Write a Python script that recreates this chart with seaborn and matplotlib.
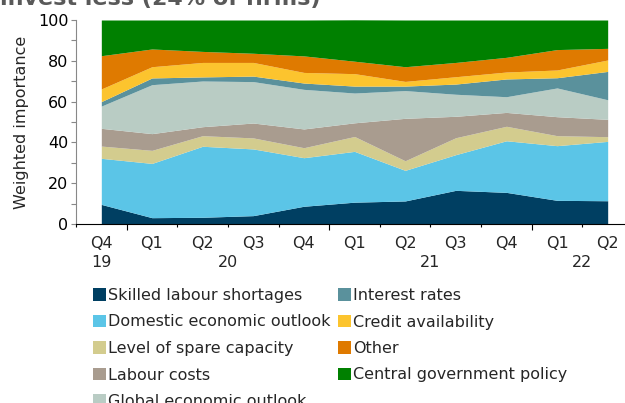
import matplotlib
matplotlib.use("Agg")
import matplotlib.pyplot as plt
import seaborn as sns
import numpy as np
import pandas as pd

# データ
periods = ["Q4 19", "Q1 20", "Q2 20", "Q3 20", "Q4 20", "Q1 21",
           "Q2 21", "Q3 21", "Q4 21", "Q1 22", "Q2 22"]

skilled_labour = [9.6, 3.1, 3.3, 4.1, 8.7, 10.7, 11.3, 16.5, 15.5, 11.6, 11.4]
domestic_outlook = [22.6, 26.6, 34.8, 32.7, 23.8, 24.9, 15.0, 17.5, 25.3, 26.8, 29.1]
spare_capacity = [6.0, 6.4, 5.2, 5.4, 4.9, 7.3, 4.7, 8.3, 7.1, 4.9, 2.3]
labour_costs = [8.7, 8.2, 4.4, 7.3, 9.2, 6.7, 20.8, 10.5, 6.8, 9.3, 8.5]
global_outlook = [10.9, 24.0, 22.4, 20.3, 19.4, 14.6, 13.6, 10.8, 7.7, 14.1, 9.6]
interest_rates = [2.2, 3.3, 2.0, 2.7, 3.1, 3.4, 2.2, 5.0, 8.7, 5.0, 13.9]
credit_availability = [6.2, 5.5, 7.1, 6.7, 5.2, 6.1, 2.3, 3.6, 3.4, 3.8, 5.6]
other = [16.3, 8.7, 5.4, 4.5, 8.1, 6.1, 7.2, 7.0, 7.2, 10.0, 5.7]
central_gov = [17.5, 14.2, 15.4, 16.3, 17.6, 20.3, 22.9, 20.8, 18.3, 14.5, 13.9]

series_names = ["Skilled labour shortages", "Domestic economic outlook",
                "Level of spare capacity", "Labour costs", "Global economic outlook",
                "Interest rates", "Credit availability", "Other",
                "Central government policy"]
colors = ["#003f62", "#5bc5e7", "#d3cc8e", "#a99c8f", "#b9ccc4",
          "#5a919c", "#fcc42e", "#df7a00", "#008000"]

df = pd.DataFrame(
    [skilled_labour, domestic_outlook, spare_capacity, labour_costs, global_outlook,
     interest_rates, credit_availability, other, central_gov],
    index=series_names, columns=periods).T

quarters = [p.split()[0] for p in periods]
years = [p.split()[1] for p in periods]

sns.set_style("ticks")
plt.rcParams["font.family"] = ["DejaVu Sans"]
plt.rcParams["font.size"] = 11.5

fig = plt.figure(figsize=(6.25, 4.03), dpi=100)
ax = fig.add_axes([76 / 625, 1 - 224 / 403, 557 / 625, 204 / 403])

x = np.arange(len(periods))
ax.stackplot(x, df.T.values, colors=colors, labels=series_names, lw=0)

ax.set_xlim(-0.5, len(periods) - 0.5)
ax.set_ylim(0, 100)
sns.despine(ax=ax)

# y軸
ax.set_yticks(range(0, 101, 20))
ax.set_yticks(range(10, 100, 20), minor=True)
ax.tick_params(axis="y", which="both", length=3.5, width=0.8, color="#888888", pad=2,
               labelsize=11.5, labelcolor="black")
ax.spines["left"].set_color("#888888")
ax.set_ylabel("Weighted importance", fontsize=11.5)
ax.yaxis.set_label_coords(-0.084, 0.5)

# x軸
ax.set_xticks(x, quarters)
ax.tick_params(axis="x", which="major", length=0, pad=9, labelsize=11.5)
year_start = [i for i in range(1, len(years)) if years[i] != years[i - 1]]
bounds = np.arange(-0.5, len(periods), 1.0)
short_bounds = [b for b in bounds if (b + 0.5) not in year_start]
ax.set_xticks(short_bounds, minor=True)
ax.tick_params(axis="x", which="minor", length=2.5, width=0.8, color="black")
ax.vlines([i - 0.5 for i in year_start], -0.03, 0, transform=ax.get_xaxis_transform(),
          clip_on=False, color="black", lw=0.8)
ax.spines["bottom"].set_color("black")

for yr in dict.fromkeys(years):
    pos = np.mean([i for i, y in enumerate(years) if y == yr])
    ax.annotate(yr, xy=(pos, 0), xycoords=("data", "axes fraction"),
                xytext=(0, -22), textcoords="offset points",
                ha="center", va="top", fontsize=11.5)

# タイトル（上が切れている）
fig.text(0.0, 1 - 5.5 / 403, "invest less (24% of firms)", fontsize=16,
         fontweight="bold", color="#595959", ha="left", va="baseline")

# 凡例
fig.legend(loc="upper left", bbox_to_anchor=(93 / 625, 1 - 288 / 403), ncol=2,
           frameon=False, fontsize=11.5, handlelength=0.8, handleheight=0.8,
           handletextpad=0.15, labelspacing=0.72, columnspacing=0.45,
           borderpad=0, borderaxespad=0)

fig.savefig("out.png", dpi=100)
